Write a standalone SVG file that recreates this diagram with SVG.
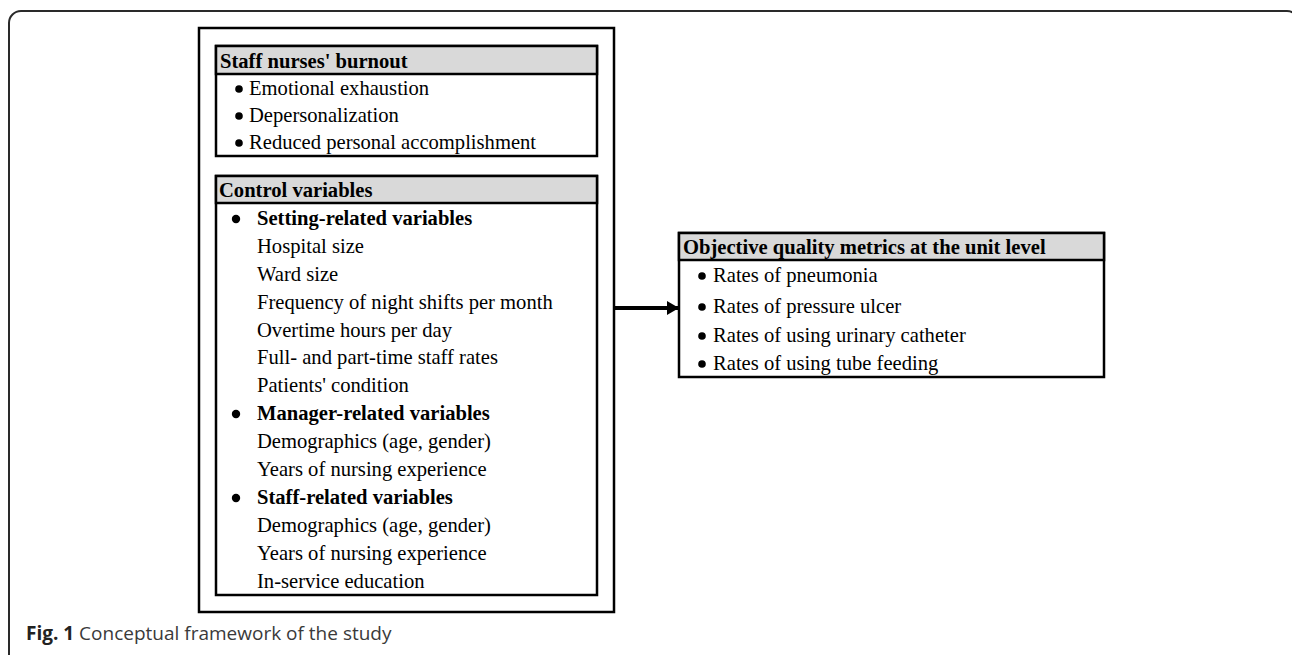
<svg xmlns="http://www.w3.org/2000/svg" width="1292" height="655" viewBox="0 0 1292 655">
<style>
.t{font-family:"Liberation Serif","Times New Roman",serif;font-size:20.6px;fill:#000}
.b{font-weight:bold}
.box{fill:#fff;stroke:#000;stroke-width:2.5}
.hd{fill:#d9d9d9;stroke:#000;stroke-width:2.5}
.cap{font-family:"Open Sans",sans-serif;font-size:19px;fill:#3a3a3a}
</style>
<defs>
<marker id="ah" markerWidth="12" markerHeight="14" refX="12" refY="7" orient="auto" markerUnits="userSpaceOnUse">
<path d="M0,0 L12,7 L0,14 Z" fill="#000"/>
</marker>
</defs>
<rect width="1292" height="655" fill="#fff"/>
<rect x="9" y="11" width="1290" height="700" rx="12" fill="none" stroke="#2a2a2a" stroke-width="2"/>
<g id="frame">
<rect x="199" y="28" width="415" height="584" fill="none" stroke="#000" stroke-width="2.5"/>
</g>
<g id="burnout">
<rect class="box" x="216" y="46" width="381" height="110"/>
<rect class="hd" x="216" y="46" width="381" height="28"/>
<text class="t b" x="220" y="68">Staff nurses' burnout</text>
<circle cx="239" cy="89" r="3.8"/><text class="t" x="249" y="95">Emotional exhaustion</text>
<circle cx="239" cy="116" r="3.8"/><text class="t" x="249" y="122">Depersonalization</text>
<circle cx="239" cy="143" r="3.8"/><text class="t" x="249" y="149">Reduced personal accomplishment</text>
</g>
<g id="control">
<rect class="box" x="216" y="176" width="381" height="419"/>
<rect class="hd" x="216" y="176" width="381" height="27"/>
<text class="t b" x="219" y="197">Control variables</text>
<circle cx="236" cy="219" r="4.2"/><text class="t b" x="257" y="225">Setting-related variables</text>
<text class="t" x="257" y="253">Hospital size</text>
<text class="t" x="257" y="281">Ward size</text>
<text class="t" x="257" y="309">Frequency of night shifts per month</text>
<text class="t" x="257" y="337">Overtime hours per day</text>
<text class="t" x="257" y="364">Full- and part-time staff rates</text>
<text class="t" x="257" y="392">Patients' condition</text>
<circle cx="236" cy="414" r="4.2"/><text class="t b" x="257" y="420">Manager-related variables</text>
<text class="t" x="257" y="448">Demographics (age, gender)</text>
<text class="t" x="257" y="476">Years of nursing experience</text>
<circle cx="236" cy="498" r="4.2"/><text class="t b" x="257" y="504">Staff-related variables</text>
<text class="t" x="257" y="532">Demographics (age, gender)</text>
<text class="t" x="257" y="560">Years of nursing experience</text>
<text class="t" x="257" y="588">In-service education</text>
</g>
<g id="outcome">
<rect class="box" x="679" y="233" width="425" height="144"/>
<rect class="hd" x="679" y="233" width="425" height="27"/>
<text class="t b" x="683" y="254">Objective quality metrics at the unit level</text>
<circle cx="702" cy="276" r="3.8"/><text class="t" x="713" y="282">Rates of pneumonia</text>
<circle cx="702" cy="307" r="3.8"/><text class="t" x="713" y="313">Rates of pressure ulcer</text>
<circle cx="702" cy="336" r="3.8"/><text class="t" x="713" y="342">Rates of using urinary catheter</text>
<circle cx="702" cy="364" r="3.8"/><text class="t" x="713" y="370">Rates of using tube feeding</text>
</g>
<g id="connectors">
<line x1="615" y1="308" x2="679" y2="308" stroke="#000" stroke-width="4" marker-end="url(#ah)"/>
</g>
<text class="cap" x="26" y="640"><tspan font-weight="bold" fill="#222">Fig. 1</tspan> Conceptual framework of the study</text>
</svg>
